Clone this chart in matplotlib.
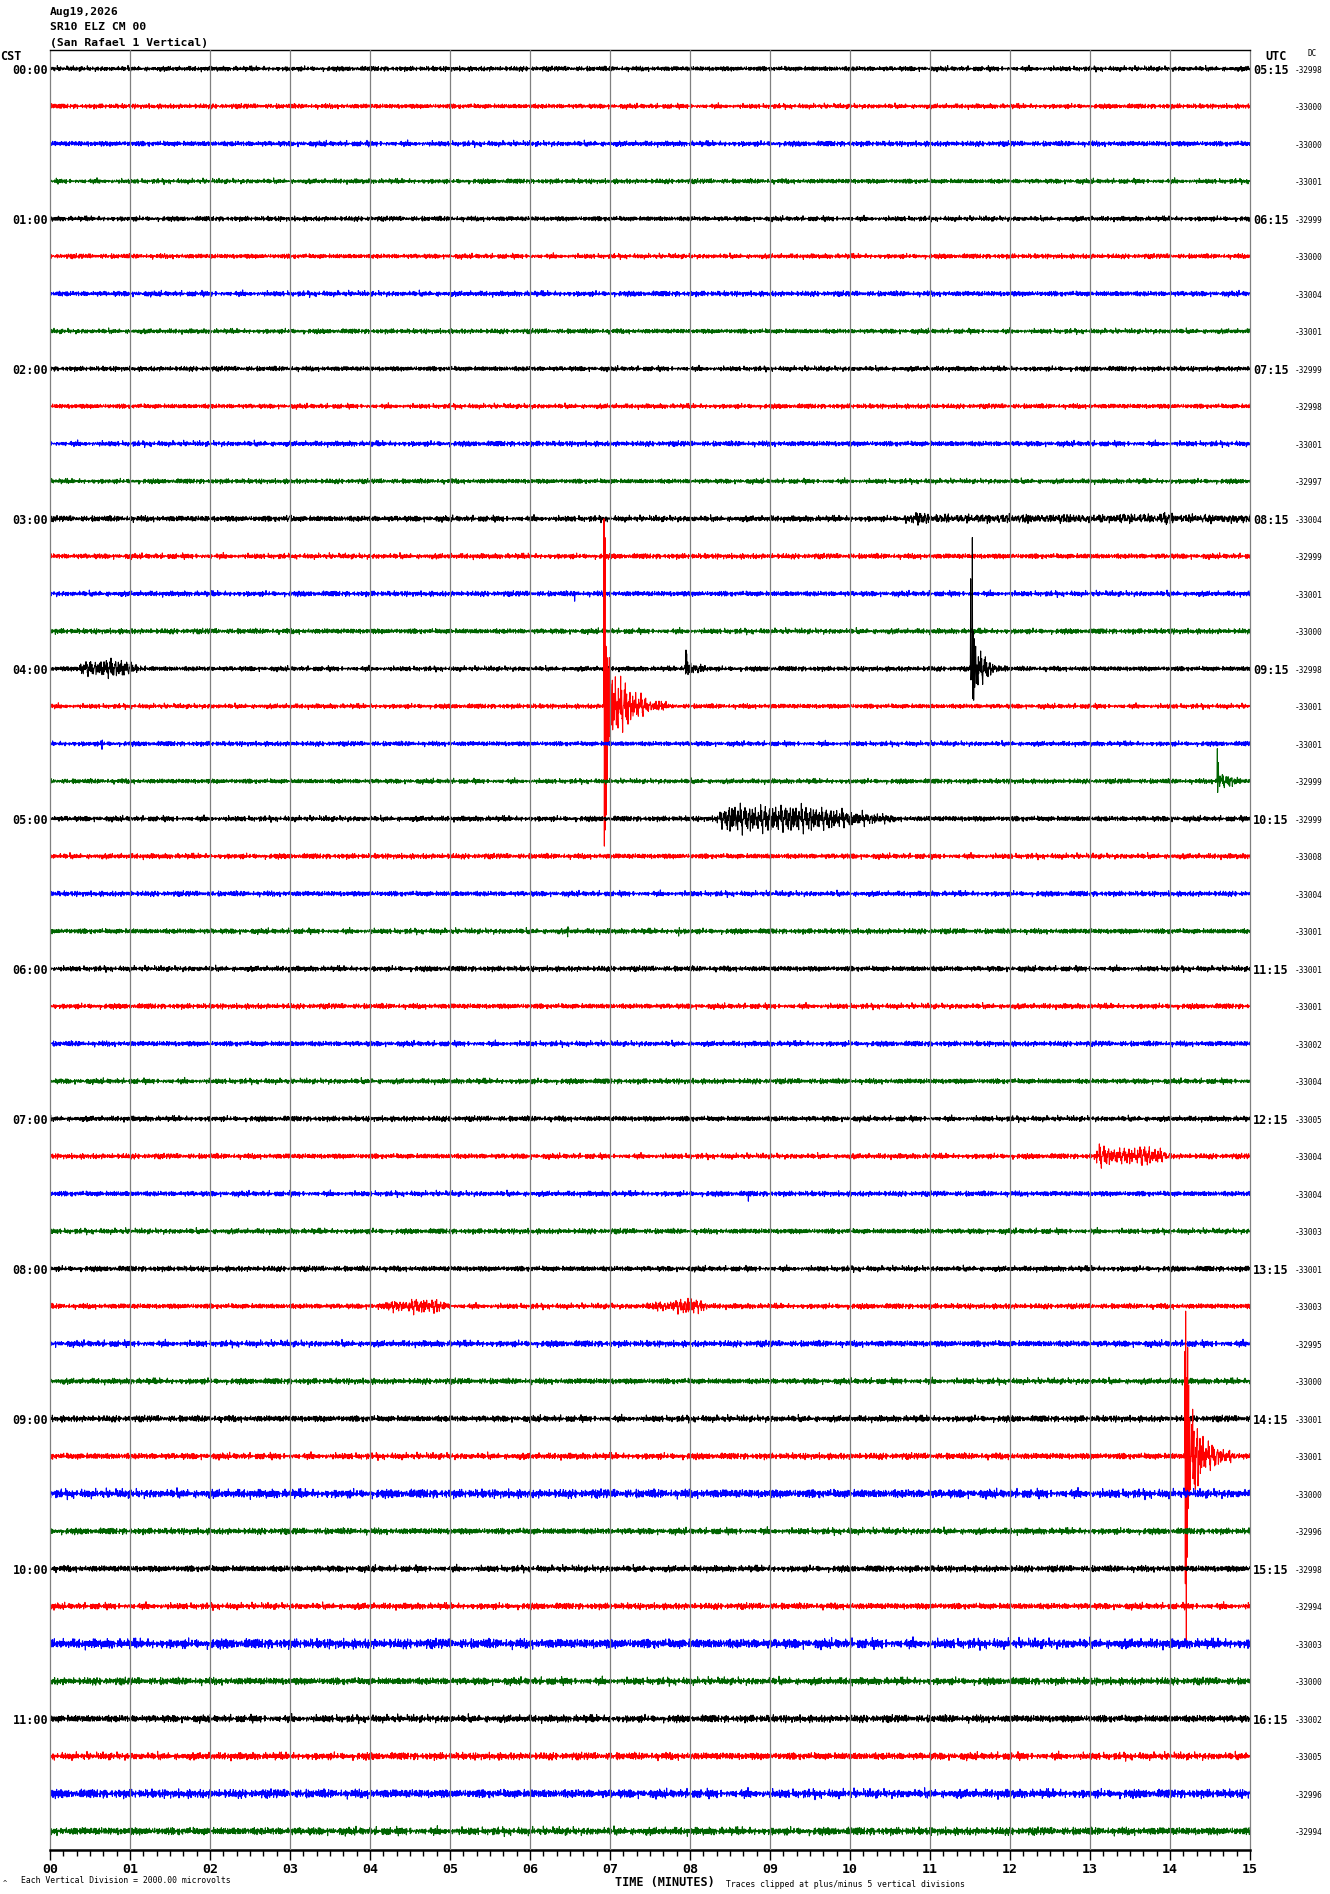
import numpy as np
import matplotlib
matplotlib.use("Agg")
import matplotlib.pyplot as plt

W, H = 1330, 1894

TITLE_LINES = ["Aug19,2026", "SR10 ELZ CM 00", "(San Rafael 1 Vertical)"]
HOURS_CST = ["00:00", "01:00", "02:00", "03:00", "04:00", "05:00",
             "06:00", "07:00", "08:00", "09:00", "10:00", "11:00"]
HOURS_UTC = ["05:15", "06:15", "07:15", "08:15", "09:15", "10:15",
             "11:15", "12:15", "13:15", "14:15", "15:15", "16:15"]
DC_VALUES = [-32998, -33000, -33000, -33001, -32999, -33000, -33004, -33001,
             -32999, -32998, -33001, -32997, -33004, -32999, -33001, -33000,
             -32998, -33001, -33001, -32999, -32999, -33008, -33004, -33001,
             -33001, -33001, -33002, -33004, -33005, -33004, -33004, -33003,
             -33001, -33003, -32995, -33000, -33001, -33001, -33000, -32996,
             -32998, -32994, -33003, -33000, -33002, -33005, -32996, -32994]
MINUTE_LABELS = ["%02d" % m for m in range(16)]
TRACE_COLORS = ["black", "red", "blue", "#006400"]

# background noise level of each trace (in trace spacings)
NOISE_LEVEL = [0.05, 0.05, 0.055, 0.05, 0.05, 0.05, 0.055, 0.05,
               0.05, 0.05, 0.055, 0.05, 0.06, 0.055, 0.055, 0.055,
               0.05, 0.05, 0.05, 0.05, 0.055, 0.055, 0.055, 0.055,
               0.055, 0.055, 0.055, 0.055, 0.055, 0.055, 0.055, 0.055,
               0.055, 0.055, 0.065, 0.06, 0.065, 0.065, 0.09, 0.065,
               0.065, 0.065, 0.1, 0.075, 0.075, 0.075, 0.09, 0.08]

# hand-typed wiggle patterns used for the noise band
P1 = [0.12, -0.35, 0.48, -0.05, 0.27, -0.62, 0.09, 0.33, -0.18, 0.95,
      -0.41, 0.06, -0.22, 0.38, -0.71, 0.15, 0.02, -0.29, 0.56, -0.11,
      0.24, -0.47, 0.81, -0.08, -0.36, 0.19, 0.44, -0.93, 0.07, 0.31,
      -0.15, -0.52, 0.66, 0.03, -0.26, 0.41, -0.04, 0.17, -0.78, 0.29,
      0.11, -0.39, 0.58, -0.21, 0.05, 0.36, -0.64, 0.14, -0.09, 0.47,
      -0.31, 0.88, -0.17, 0.02, -0.45, 0.23, 0.61, -0.28, 0.10, -0.55,
      0.34]
P2 = [-0.21, 0.44, -0.07, 0.32, -0.58, 0.13, 0.71, -0.36, 0.04, -0.19,
      0.52, -0.85, 0.26, 0.08, -0.42, 0.37, -0.12, 0.63, -0.27, 0.01,
      -0.49, 0.18, 0.92, -0.33, 0.06, -0.61, 0.29, -0.14, 0.45, -0.03,
      -0.76, 0.22, 0.39, -0.25, 0.11, -0.44, 0.57, -0.09, 0.16, -0.68,
      0.35, 0.02, -0.31, 0.74, -0.16, -0.05, 0.48, -0.53, 0.20, -0.38,
      0.09, 0.66, -0.23]

# event envelopes: trace -> (minute, amplitude) knots
ENVELOPES = {
    12: [(2.95, 0), (3.0, 0.08), (3.05, 0), (10.6, 0), (10.85, 0.11), (11.0, 0.05),
         (13.8, 0.06), (13.95, 0.09), (14.1, 0.05), (15.0, 0.05)],
    16: [(0.3, 0), (0.4, 0.11), (0.9, 0.15), (1.05, 0.06), (1.3, 0),
         (7.92, 0), (7.97, 0.16), (8.05, 0.08), (8.3, 0),
         (11.52, 0), (11.58, 0.35), (11.7, 0.17), (11.85, 0.05), (12.0, 0)],
    17: [(6.91, 0), (7.0, 0.7), (7.05, 0.5), (7.25, 0.28), (7.45, 0.12), (7.7, 0.04), (7.9, 0)],
    19: [(14.57, 0), (14.62, 0.12), (14.8, 0.05), (14.9, 0)],
    20: [(8.3, 0), (8.5, 0.22), (8.7, 0.19), (9.4, 0.19), (9.7, 0.15), (10.0, 0.1), (10.5, 0.05), (10.6, 0)],
    29: [(13.06, 0), (13.1, 0.16), (13.4, 0.1), (13.72, 0.14), (13.9, 0.07), (14.05, 0)],
    33: [(4.0, 0), (4.3, 0.06), (4.7, 0.11), (5.0, 0.03), (5.05, 0),
         (7.35, 0), (7.7, 0.07), (8.0, 0.12), (8.2, 0.05), (8.3, 0)],
    37: [(14.18, 0), (14.27, 0.75), (14.4, 0.35), (14.55, 0.17), (14.8, 0.05), (14.9, 0)],
}

# single large swings: (trace, minute, value)
SPIKES = [
    (17, 6.925, 5.5), (17, 6.931, -3.73), (17, 6.937, 4.5), (17, 6.943, -3.3),
    (17, 6.950, 1.6), (17, 6.956, -2.9), (17, 6.962, 1.3), (17, 6.968, -2.0),
    (17, 6.975, 1.0), (17, 6.981, -1.0), (17, 6.990, 1.3), (17, 6.997, -0.8),
    (17, 7.010, 0.6), (17, 7.020, -0.5),
    (16, 11.508, 2.4), (16, 11.514, -0.3), (16, 11.529, 3.5), (16, 11.535, -0.8),
    (16, 11.541, 1.0), (16, 11.547, -0.84), (16, 11.553, 0.8), (16, 11.560, -0.5),
    (16, 11.570, 0.6),
    (16, 7.948, 0.5), (16, 7.954, -0.1), (16, 7.960, 0.4),
    (37, 14.187, 2.8), (37, 14.192, -3.4), (37, 14.197, 3.87), (37, 14.203, -4.93),
    (37, 14.209, 2.1), (37, 14.214, -2.7), (37, 14.220, 2.9), (37, 14.226, -1.4),
    (37, 14.232, 1.9), (37, 14.238, -1.0), (37, 14.245, 1.0), (37, 14.251, -0.9),
    (19, 14.590, 0.87), (19, 14.597, -0.3), (19, 14.605, 0.5),
    (14, 6.560, -0.2), (18, 0.650, -0.15), (18, 0.655, 0.1),
    (23, 6.470, -0.15), (23, 6.475, 0.12), (23, 7.860, -0.13), (23, 7.865, 0.1),
    (30, 8.730, -0.2),
]
CLIP = 5.0

N = 3601
t = np.linspace(0, 15, N)
n = np.arange(N)
p1 = np.array(P1)
p2 = np.array(P2)

fig = plt.figure(figsize=(W / 100, H / 100), dpi=100)
ax = fig.add_axes([50 / W, (H - 1850) / H, 1200 / W, 1800 / H])

for k in range(48):
    y = NOISE_LEVEL[k] * (p1[(n + 17 * k) % len(p1)] + p2[(n + 31 * k) % len(p2)])
    if k in ENVELOPES:
        kt, ka = zip(*ENVELOPES[k])
        env = np.interp(t, kt, ka, left=0, right=0)
        carrier = p1[(3 * n + 7 * k) % len(p1)] / 0.5
        y = y + env * carrier
    for tr, tm, val in SPIKES:
        if tr == k:
            y[int(round(tm / 15 * (N - 1)))] = val
    y = np.clip(y, -CLIP, CLIP)
    ax.plot(t, y - k, color=TRACE_COLORS[k % 4], lw=0.75, zorder=2 + k * 0.01)

for m in range(1, 15):
    ax.axvline(m, color="#808080", lw=0.9, zorder=5)

ax.set_xlim(0, 15)
ax.set_ylim(-47.5, 0.5)
ax.set_yticks([])
ax.set_xticks(range(16))
ax.set_xticks(np.arange(0, 15.01, 1 / 6), minor=True)
ax.set_xticklabels(MINUTE_LABELS, fontfamily="DejaVu Sans Mono",
                   fontweight="bold", fontsize=9.5)
ax.tick_params(axis="x", which="major", direction="out", length=7.5, width=1, pad=2)
ax.tick_params(axis="x", which="minor", direction="out", length=4.5, width=1)
ax.spines["bottom"].set_linewidth(1.8)
ax.spines["top"].set_linewidth(1.0)
ax.spines["left"].set_color("#808080")
ax.spines["right"].set_color("#808080")
ax.spines["left"].set_linewidth(0.9)
ax.spines["right"].set_linewidth(0.9)


def px(x, y):
    return x / W, 1 - y / H


mono = "DejaVu Sans Mono"
for i, line in enumerate(TITLE_LINES):
    fig.text(*px(50, 12 + i * 15.5), line, fontfamily=mono, fontweight="bold",
             fontsize=8.2, va="center", ha="left")

fig.text(*px(0, 57), "CST", fontfamily=mono, fontweight="bold", fontsize=8.5,
         va="center", ha="left")
fig.text(*px(1276, 57), "UTC", fontfamily=mono, fontweight="bold", fontsize=8.5,
         va="center", ha="center")
fig.text(*px(1312, 54), "DC", fontfamily=mono, fontsize=5.5, va="center", ha="center")

for k in range(48):
    ypx = 69.3 + k * 37.5
    if k % 4 == 0:
        fig.text(*px(48, ypx + 1), HOURS_CST[k // 4], fontfamily=mono,
                 fontweight="bold", fontsize=8.5, va="center", ha="right")
        fig.text(*px(1253, ypx + 1), HOURS_UTC[k // 4], fontfamily=mono,
                 fontweight="bold", fontsize=8.5, va="center", ha="left")
    fig.text(*px(1295, ypx + 1), str(DC_VALUES[k]), fontfamily=mono,
             fontsize=5.6, va="center", ha="left")

fig.text(*px(665, 1882), "TIME (MINUTES)", fontfamily=mono, fontweight="bold",
         fontsize=8.5, va="center", ha="center")
fig.text(*px(726, 1884), "Traces clipped at plus/minus 5 vertical divisions",
         fontfamily=mono, fontsize=5.9, va="center", ha="left")
fig.text(*px(21, 1880), "Each Vertical Division = 2000.00 microvolts",
         fontfamily=mono, fontsize=5.9, va="center", ha="left")
fig.text(*px(3, 1883), "^", fontfamily=mono, fontsize=5, va="center", ha="left")

fig.savefig("out.png", dpi=100)
